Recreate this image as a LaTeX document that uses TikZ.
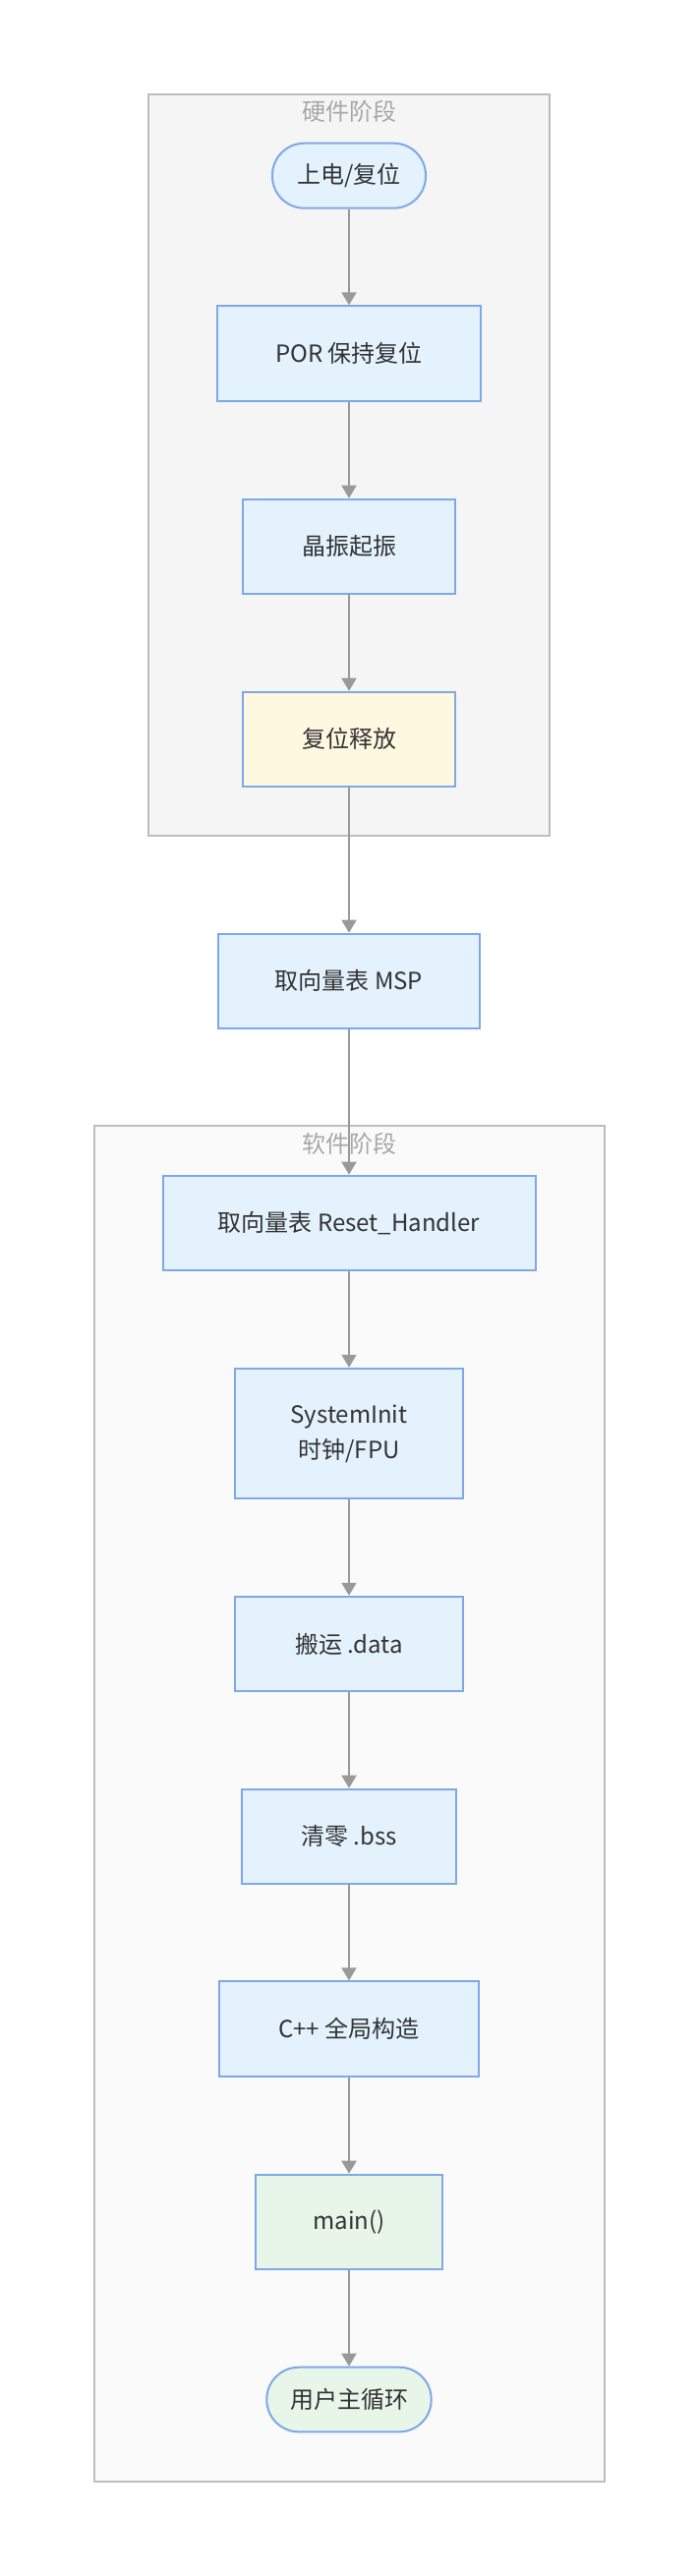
\documentclass[tikz,border=0pt]{standalone}
\usepackage{fontspec}
\setmainfont{Noto Sans CJK SC}
\usetikzlibrary{arrows.meta}
\definecolor{nodefill}{HTML}{E3F2FD}
\definecolor{nodeline}{HTML}{7EA8E6}
\definecolor{yelfill}{HTML}{FFF8E1}
\definecolor{grnfill}{HTML}{E8F5E9}
\definecolor{clline}{HTML}{BDBDBD}
\definecolor{hwfill}{HTML}{F5F5F5}
\definecolor{swfill}{HTML}{FAFAFA}
\definecolor{titlecol}{HTML}{A8A8A8}
\definecolor{txtcol}{HTML}{333333}
\definecolor{edgecol}{HTML}{999999}
\tikzset{
  box/.style={draw=nodeline, line width=2pt, fill=nodefill, inner sep=0pt,
    text=txtcol, align=center, font=\fontsize{24}{36}\selectfont},
  stadium/.style={box, rounded corners=32.5pt},
  cluster/.style={draw=clline, line width=2pt},
  cltitle/.style={text=titlecol, font=\fontsize{24}{30}\selectfont, inner sep=0pt},
  arr/.style={draw=edgecol, line width=2pt,
    -{Triangle[length=13pt,width=15pt,fill=edgecol]}, shorten >=0pt}
}
\begin{document}
\begin{tikzpicture}[x=1pt,y=-1pt]
\useasboundingbox (0,0) rectangle (710,2620);
\fill[white] (0,0) rectangle (710,2620);
% clusters
\draw[cluster, fill=hwfill] (151,96) rectangle (558.7,850);
\node[cltitle] (hwt) at (355,113) {硬件阶段};
\draw[cluster, fill=swfill] (96.4,1145.3) rectangle (614.6,2523.7);
\node[cltitle] (swt) at (355,1163) {软件阶段};
% nodes
\node[stadium, minimum width=156pt, minimum height=66pt] (n1) at (355,178.7) {上电/复位};
\node[box, minimum width=267.7pt, minimum height=96.7pt] (n2) at (355,359.7) {POR 保持复位};
\node[box, minimum width=216.7pt, minimum height=96.3pt] (n3) at (355,555.8) {晶振起振};
\node[box, fill=yelfill, minimum width=216.7pt, minimum height=96.3pt] (n4) at (355,751.8) {复位释放};
\node[box, minimum width=266pt, minimum height=96.3pt] (n5) at (355,997.8) {取向量表 MSP};
\node[box, minimum width=379pt, minimum height=96.7pt] (n6) at (355,1244) {取向量表 Reset\_Handler};
\node[box, minimum width=232.8pt, minimum height=132.3pt] (n7) at (355,1457.9) {SystemInit\\时钟/FPU};
\node[box, minimum width=232.6pt, minimum height=96.3pt] (n8) at (355,1671.9) {搬运 .data};
\node[box, minimum width=217.7pt, minimum height=96pt] (n9) at (355,1867.7) {清零 .bss};
\node[box, minimum width=264pt, minimum height=96.7pt] (n10) at (355,2063.7) {C++ 全局构造};
\node[box, fill=grnfill, minimum width=190.7pt, minimum height=96pt] (n11) at (355,2259.7) {main()};
\node[stadium, fill=grnfill, minimum width=167.4pt, minimum height=65.6pt] (n12) at (355,2440.5) {用户主循环};
% edges
\draw[arr] (n1) -- (n2);
\draw[arr] (n2) -- (n3);
\draw[arr] (n3) -- (n4);
\draw[arr] (n4) -- (n5);
\draw[arr] (n5) -- (n6);
\draw[arr] (n6) -- (n7);
\draw[arr] (n7) -- (n8);
\draw[arr] (n8) -- (n9);
\draw[arr] (n9) -- (n10);
\draw[arr] (n10) -- (n11);
\draw[arr] (n11) -- (n12);
\end{tikzpicture}
\end{document}
